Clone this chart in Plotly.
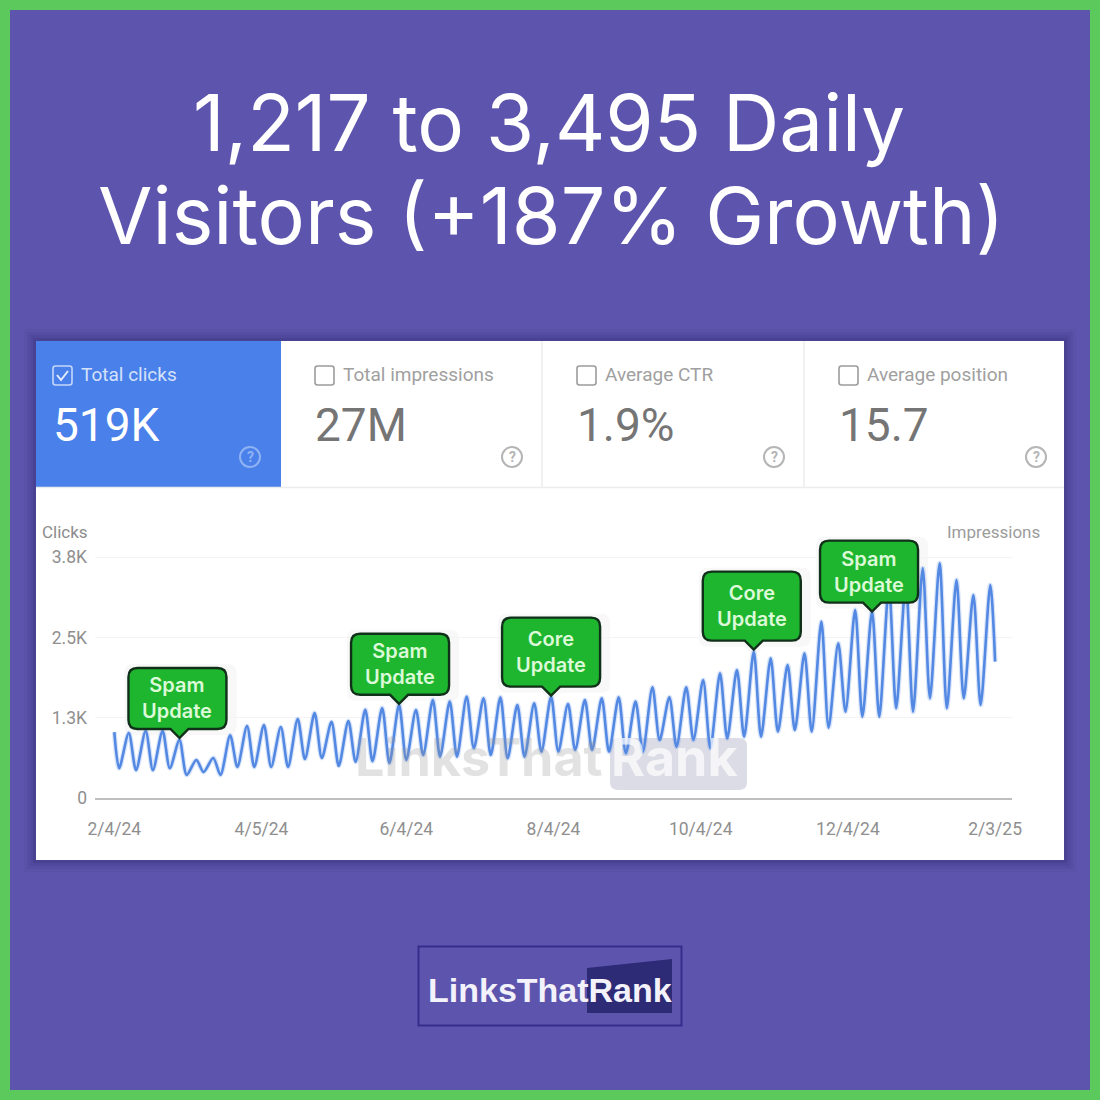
"""Search Console clicks card on the LinksThatRank growth graphic."""

import pandas as pd
import plotly.graph_objects as go

# Clicks: one low and one high per weekly cycle
first_click = 1040
last_click = 2150
weekly_lows = [
    470, 440, 440, 470, 365, 410, 365, 490, 490, 490, 490, 615, 630,
    505, 570, 580, 550, 600, 678, 652, 652, 784, 678, 626, 652, 730,
    730, 757, 757, 730, 705, 730, 915, 809, 915, 784, 941, 967, 967,
    1046, 1072, 1046, 1109, 1361, 1283, 1283, 1415, 1361, 1572, 1415, 1572, 1467,
]
weekly_highs = [
    1025, 1057, 1057, 915, 600, 630, 990, 1135, 1150, 1120, 1245, 1340, 1200,
    1215, 1390, 1420, 1470, 1388, 1546, 1520, 1598, 1572, 1588, 1467, 1493, 1598,
    1483, 1546, 1572, 1588, 1520, 1746, 1588, 1746, 1861, 1967, 2019, 2308, 2203,
    2098, 2282, 2781, 2440, 2965, 2939, 3330, 3390, 3623, 3701, 3438, 3202, 3360,
]

tick_dates = ["2024-02-04", "2024-04-05", "2024-06-04", "2024-08-04",
              "2024-10-04", "2024-12-04", "2025-02-03"]
tick_labels = ["2/4/24", "4/5/24", "6/4/24", "8/4/24", "10/4/24", "12/4/24", "2/3/25"]
y_ticks = [0, 1267, 2533, 3800]
y_labels = ["0", "1.3K", "2.5K", "3.8K"]

metric_names = ["Total clicks", "Total impressions", "Average CTR", "Average position"]
metric_values = ["519K", "27M", "1.9%", "15.7"]

# Which weekly high each update marker points at
update_names = ["Spam", "Spam", "Core", "Core", "Spam"]
update_weeks = [3, 16, 25, 37, 44]

PURPLE = "#5d55ad"
GREEN = "#5cc95c"
BLUE = "#4a80ea"
LINE = "#5388e3"
GREY = "#8a8a8a"
SIZE = 1100

# Bubble styling: height, sideways nudge of the body, lift above the peak
bubble_heights = [61, 61, 69, 69, 62]
bubble_nudges = [-2, 1, 0, -2, -3]
bubble_lifts = [0, -1, -1, 0, -2]


def px(x):
    return x / SIZE


def py(y):
    return 1 - y / SIZE


def rect(x0, y0, x1, y1, fill, line=None, width=0, layer="below"):
    return dict(type="rect", xref="paper", yref="paper", x0=px(x0), x1=px(x1),
                y0=py(y0), y1=py(y1), fillcolor=fill, layer=layer,
                line=dict(color=line or fill, width=width))


def text(x, y, s, size, color, anchor="left", font="Roboto", weight=None):
    f = dict(family=font, size=size, color=color)
    if weight:
        f["weight"] = weight
    return dict(xref="paper", yref="paper", x=px(x), y=py(y), text=s, showarrow=False,
                xanchor=anchor, yanchor="middle", font=f, align="center")


def rounded_path(x0, y0, x1, y1, r):
    """Rounded box path in paper coordinates, from page pixels."""
    pts = [f"M{px(x0 + r)},{py(y0)}", f"L{px(x1 - r)},{py(y0)}",
           f"Q{px(x1)},{py(y0)} {px(x1)},{py(y0 + r)}", f"L{px(x1)},{py(y1 - r)}",
           f"Q{px(x1)},{py(y1)} {px(x1 - r)},{py(y1)}", f"L{px(x0 + r)},{py(y1)}",
           f"Q{px(x0)},{py(y1)} {px(x0)},{py(y1 - r)}", f"L{px(x0)},{py(y0 + r)}",
           f"Q{px(x0)},{py(y0)} {px(x0 + r)},{py(y0)}", "Z"]
    return " ".join(pts)


def callout_path(h, nudge=0, lift=0, w=98, r=9, tip=9):
    """Speech bubble in pixels above its anchor, y pointing up."""
    b = tip + 2 + lift
    t = b + h
    left = nudge - w / 2
    right = nudge + w / 2
    return (f"M0,{2 + lift} L{-tip},{b} L{left + r},{b} Q{left},{b} {left},{b + r} "
            f"L{left},{t - r} Q{left},{t} {left + r},{t} L{right - r},{t} Q{right},{t} {right},{t - r} "
            f"L{right},{b + r} Q{right},{b} {right - r},{b} L{tip},{b} Z")


# Turning points of the weekly cycle, the low falls two days in and the high four days later
low_dates = pd.date_range("2024-02-06", periods=len(weekly_lows), freq="7D")
high_dates = low_dates + pd.Timedelta(days=4)

xs = [pd.Timestamp("2024-02-04")]
ys = [first_click]
for low_d, low, high_d, high in zip(low_dates, weekly_lows, high_dates, weekly_highs):
    xs += [low_d, high_d]
    ys += [low, high]
xs.append(pd.Timestamp("2025-02-03"))
ys.append(last_click)

fig = go.Figure()
# soft halo under the line, the source picture is a little blurred
fig.add_trace(go.Scatter(
    x=xs, y=ys, mode="lines", hoverinfo="skip",
    line=dict(color="rgba(83,136,227,0.22)", width=5, shape="spline", smoothing=0.8),
))
fig.add_trace(go.Scatter(
    x=xs, y=ys, mode="lines", hoverinfo="skip",
    line=dict(color=LINE, width=2.6, shape="spline", smoothing=0.8),
))

shapes = []
annotations = []

# Page frame and card shadow
shapes.append(rect(5, 5, 1095, 1095, PURPLE, GREEN, 10))
for grow, alpha in [(12, 0.05), (9, 0.07), (6, 0.10), (3, 0.16)]:
    shapes.append(rect(36 - grow, 341 - grow, 1064 + grow, 860 + grow, f"rgba(35,28,95,{alpha})"))
shapes.append(rect(36, 341, 1064, 860, "#ffffff"))
shapes.append(rect(36, 341, 281, 487, BLUE))
shapes.append(dict(type="line", xref="paper", yref="paper", x0=px(36), x1=px(1064),
                   y0=py(487.5), y1=py(487.5), layer="below", line=dict(color="#ececec", width=1.5)))

# Watermark block behind the line
shapes.append(dict(type="path", xref="paper", yref="paper", layer="below",
                   path=rounded_path(610, 738, 747, 790, 8), fillcolor="#dcdce6",
                   line=dict(width=0)))
annotations.append(text(353, 757, "LinksThat", 52, "rgba(150,150,150,0.28)", font="Inter", weight=700))
annotations.append(text(609, 757, "Rank", 52, "rgba(255,255,255,0.7)", font="Inter", weight=700))

# Metric tiles
tile_lefts = [53, 315, 577, 839]
for i, (name, value) in enumerate(zip(metric_names, metric_values)):
    left = tile_lefts[i]
    if i > 1:
        shapes.append(dict(type="line", xref="paper", yref="paper",
                           x0=px(left - 35), x1=px(left - 35), y0=py(341), y1=py(487),
                           layer="below", line=dict(color="#ececec", width=1.5)))
    on = i == 0
    label_col = "#d5e2fb" if on else "#a0a0a0"
    icon_col = "#8fb2f3" if on else "#b5b5b5"
    shapes.append(dict(type="path", xref="paper", yref="paper", layer="above",
                       path=rounded_path(left, 366, left + 19, 385, 2.5), fillcolor="rgba(0,0,0,0)",
                       line=dict(color="#c4d6fa" if on else "#9c9c9c", width=1.6)))
    if on:
        shapes.append(dict(type="path", xref="paper", yref="paper", layer="above",
                           path=f"M{px(left + 4)},{py(375)} L{px(left + 8)},{py(380)} L{px(left + 15)},{py(371)}",
                           line=dict(color="#e3ecfd", width=2)))
    annotations.append(text(left + 26, 375, name, 19, label_col))
    annotations.append(text(left - 2, 425, value, 46, "#ffffff" if on else "#757575"))
    cx = left + 197
    shapes.append(dict(type="circle", xref="paper", yref="paper", layer="above",
                       x0=px(cx - 10), x1=px(cx + 10), y0=py(447), y1=py(467),
                       line=dict(color=icon_col, width=2), fillcolor="rgba(0,0,0,0)"))
    annotations.append(text(cx, 457, "?", 14, icon_col, "center", weight=700))

# Axis captions
annotations.append(text(40, 532, "Clicks", 17, "#8c8c8c"))
annotations.append(text(1042, 532, "Impressions", 17, "#9c9c9c", "right"))

# Update markers, anchored on the weekly high they point at
for name, week, h, nudge, lift in zip(update_names, update_weeks, bubble_heights, bubble_nudges, bubble_lifts):
    anchor_x = high_dates[week].strftime("%Y-%m-%d")
    anchor_y = weekly_highs[week]
    # grey smudge behind the bubble
    shapes.append(dict(type="path", xref="x", yref="y", xsizemode="pixel", ysizemode="pixel",
                       xanchor=anchor_x, yanchor=anchor_y, layer="below",
                       path=callout_path(h + 10, nudge + 3, lift - 6, w=112),
                       fillcolor="rgba(60,60,80,0.035)", line=dict(width=0)))
    shapes.append(dict(type="path", xref="x", yref="y", xsizemode="pixel", ysizemode="pixel",
                       xanchor=anchor_x, yanchor=anchor_y, layer="above",
                       path=callout_path(h, nudge, lift), fillcolor="#1fb62f",
                       line=dict(color="#10301a", width=2.4)))
    annotations.append(dict(xref="x", yref="y", x=anchor_x, y=anchor_y, xshift=nudge,
                            yshift=11 + lift + h / 2,
                            text=f"{name}<br>Update", showarrow=False, align="center",
                            xanchor="center", yanchor="middle",
                            font=dict(family="Inter", size=20, color="#dcf9d8", weight=600)))

# Headline and logo
annotations.append(text(549, 122, "1,217 to 3,495 Daily", 78, "#ffffff", "center", "Inter", 400))
annotations.append(text(551, 215, "Visitors (+187% Growth)", 79, "#ffffff", "center", "Inter", 400))
shapes.append(rect(418.5, 946.5, 681.5, 1025.5, "rgba(0,0,0,0)", "#352c8c", 2))
shapes.append(dict(type="path", xref="paper", yref="paper", layer="below",
                   path=f"M{px(587)},{py(968)} L{px(672)},{py(959)} L{px(672)},{py(1013)} L{px(587)},{py(1013)} Z",
                   fillcolor="#2d2a76", line=dict(width=0)))
annotations.append(text(426, 990, "LinksThatRank", 34, "#f3f2fb", font="Liberation Sans", weight=700))

fig.update_layout(
    width=SIZE,
    height=SIZE,
    autosize=False,
    margin=dict(l=0, r=0, t=0, b=0, autoexpand=False),
    paper_bgcolor=PURPLE,
    plot_bgcolor="rgba(0,0,0,0)",
    showlegend=False,
    shapes=shapes,
    annotations=annotations,
    font=dict(family="Roboto", color=GREY),
    xaxis=dict(
        domain=[px(95), px(1012)],
        automargin=False,
        type="date",
        range=["2024-01-27", "2025-02-10"],
        tickmode="array",
        tickvals=tick_dates,
        ticktext=tick_labels,
        showgrid=False,
        zeroline=False,
        ticks="",
        ticklabelstandoff=14,
        showline=True,
        linecolor="#bfbfbf",
        linewidth=2,
        tickfont=dict(size=17.5, color="#8f8f8f"),
    ),
    yaxis=dict(
        # headroom above the 3.8K gridline so the last marker is not clipped
        domain=[py(798), py(520)],
        automargin=False,
        range=[0, 4384],
        tickmode="array",
        tickvals=y_ticks,
        ticktext=y_labels,
        showgrid=True,
        gridcolor="#f4f4f4",
        zeroline=False,
        ticks="",
        ticklabelstandoff=7,
        tickfont=dict(size=17.5, color="#8f8f8f"),
    ),
)

fig.write_html("out.html", config={"displayModeBar": False},
               post_script="document.body.style.margin='0';")
